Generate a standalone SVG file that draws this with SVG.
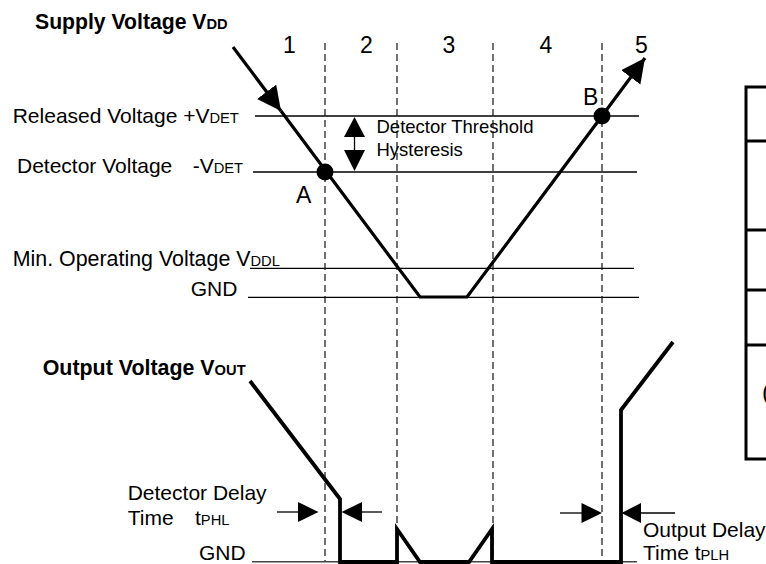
<svg xmlns="http://www.w3.org/2000/svg" width="766" height="564" viewBox="0 0 766 564">
<style>
text{font-family:"Liberation Sans",Arial,sans-serif;font-size:21px;fill:#000}
.b{font-weight:bold}
.s{font-size:14.7px}
.sm{font-size:18.5px}
.big{font-size:23px}
.thin{stroke:#000;stroke-width:1.3;fill:none}
.gnd{stroke:#444;stroke-width:1.5;fill:none}
.dash{stroke:#111;stroke-width:1.2;stroke-dasharray:7,4;fill:none}
.wave{stroke:#000;stroke-width:3.2;fill:none;stroke-linejoin:miter}
.out{stroke:#000;stroke-width:3.8;fill:none;stroke-linejoin:miter}
.tbl{stroke:#000;stroke-width:3;fill:none}
.head{fill:#000;stroke:none}
</style>
<defs>
<marker id="ah" markerUnits="userSpaceOnUse" markerWidth="26" markerHeight="26" refX="24" refY="12" orient="auto">
<path d="M0,0 L24,12 L0,24 Z" class="head"/>
</marker>
</defs>

<g id="labels">
<text x="35" y="29" class="b" style="font-size:21.2px">Supply Voltage V<tspan class="s">DD</tspan></text>
<text x="289.5" y="53" class="big" text-anchor="middle">1</text>
<text x="366.5" y="53" class="big" text-anchor="middle">2</text>
<text x="449" y="53" class="big" text-anchor="middle">3</text>
<text x="546" y="53" class="big" text-anchor="middle">4</text>
<text x="641.5" y="53" class="big" text-anchor="middle">5</text>
<text x="12.7" y="123">Released Voltage +V<tspan class="s">DET</tspan></text>
<text x="17" y="173">Detector Voltage</text>
<text x="192.7" y="173">-V<tspan class="s">DET</tspan></text>
<text x="296" y="203" class="big">A</text>
<text x="583" y="105" class="big">B</text>
<text x="376.5" y="133" class="sm">Detector Threshold</text>
<text x="376.5" y="156" class="sm">Hysteresis</text>
<text x="12.7" y="266" style="font-size:21.4px">Min. Operating Voltage V<tspan class="s">DDL</tspan></text>
<text x="190.7" y="296">GND</text>
<text x="42.7" y="375" class="b" style="font-size:21.4px">Output Voltage V<tspan class="s">OUT</tspan></text>
<text x="127.7" y="500">Detector Delay</text>
<text x="127.7" y="525">Time</text>
<text x="195" y="525">t<tspan class="s">PHL</tspan></text>
<text x="199" y="560">GND</text>
<text x="643" y="537">Output Delay</text>
<text x="643" y="560">Time t<tspan class="s">PLH</tspan></text>
<text x="762" y="400" style="font-size:24px">(</text>
</g>

<g id="levels">
<line x1="255" y1="116" x2="639" y2="116" class="thin"/>
<line x1="253" y1="172" x2="637" y2="172" class="thin"/>
<line x1="250" y1="268.3" x2="634" y2="268.3" class="thin"/>
<line x1="248" y1="297.3" x2="639" y2="297.3" class="thin"/>
<line x1="252" y1="561.7" x2="637" y2="561.7" class="gnd"/>
</g>

<g id="phases">
<line x1="325" y1="43" x2="325" y2="561" class="dash"/>
<line x1="397" y1="43" x2="397" y2="561" class="dash"/>
<line x1="493" y1="43" x2="493" y2="561" class="dash"/>
<line x1="602" y1="43" x2="602" y2="561" class="dash"/>
</g>

<g id="supply-voltage">
<line x1="233" y1="47" x2="281" y2="111" class="wave" marker-end="url(#ah)"/>
<polyline points="281,111 420,297 467,297 602,116 645,58" class="wave" marker-end="url(#ah)"/>
<circle id="point-A" cx="325" cy="172" r="8.5" class="head"/>
<circle id="point-B" cx="602" cy="116" r="8.5" class="head"/>
</g>

<g id="hysteresis-arrow">
<line x1="354.5" y1="136" x2="354.5" y2="151" class="thin"/>
<path d="M354.5,117 L365,137 L344,137 Z" class="head"/>
<path d="M354.5,171 L365,150 L344,150 Z" class="head"/>
</g>

<g id="output-voltage">
<polyline points="250,381 340,499 340,562 397,562 397,529 420,562 469,562 492,529 492,562 621,562 621,410 673,342" class="out"/>
</g>

<g id="connectors">
<line x1="277" y1="512" x2="299" y2="512" class="thin"/>
<path d="M318.5,512 L298,502 L298,522 Z" class="head"/>
<line x1="360" y1="512" x2="382" y2="512" class="thin"/>
<path d="M341.5,512 L362,502 L362,522 Z" class="head"/>
<line x1="560" y1="513" x2="583" y2="513" class="thin"/>
<path d="M602,513 L581.5,503 L581.5,523 Z" class="head"/>
<line x1="639" y1="513" x2="675" y2="513" class="thin"/>
<path d="M621.5,513 L641,503 L641,523 Z" class="head"/>
</g>

<g id="table">
<polyline points="766,87 746,87 746,459 766,459" class="tbl"/>
<line x1="746" y1="141" x2="766" y2="141" class="tbl"/>
<line x1="746" y1="230" x2="766" y2="230" class="tbl"/>
<line x1="746" y1="290" x2="766" y2="290" class="tbl"/>
<line x1="746" y1="345" x2="766" y2="345" class="tbl"/>
</g>
</svg>
